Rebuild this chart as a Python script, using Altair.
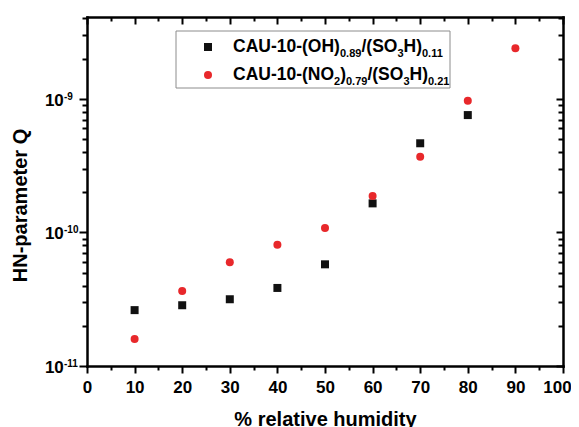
import altair as alt
import pandas as pd

# ---- data ----
humidity_oh = [10, 20, 30, 40, 50, 60, 70, 80]
q_oh = [2.62e-11, 2.85e-11, 3.16e-11, 3.84e-11, 5.77e-11, 1.65e-10, 4.65e-10, 7.56e-10]

humidity_no2 = [10, 20, 30, 40, 50, 60, 70, 80, 90]
q_no2 = [1.59e-11, 3.64e-11, 5.97e-11, 8.09e-11, 1.08e-10, 1.87e-10, 3.69e-10, 9.68e-10, 2.39e-9]

x_major = [0, 10, 20, 30, 40, 50, 60, 70, 80, 90, 100]
x_minor = [5, 15, 25, 35, 45, 55, 65, 75, 85, 95]
y_major = [1e-11, 1e-10, 1e-9]
y_major_base = ["10", "10", "10"]
y_major_exp = ["-11", "-10", "-9"]
y_minor = [2e-11, 3e-11, 4e-11, 5e-11, 6e-11, 7e-11, 8e-11, 9e-11,
           2e-10, 3e-10, 4e-10, 5e-10, 6e-10, 7e-10, 8e-10, 9e-10,
           2e-9, 3e-9, 4e-9]
x_domain = [0, 100]
y_domain = [1e-11, 4.1e-9]

x_title = "% relative humidity"
y_title = "HN-parameter Q"

# legend text pieces: (text, is_subscript)
legend_oh = [("CAU-10-(OH)", False), ("0.89", True), ("/(SO", False), ("3", True), ("H)", False), ("0.11", True)]
legend_no2 = [("CAU-10-(NO", False), ("2", True), (")", False), ("0.79", True), ("/(SO", False),
              ("3", True), ("H)", False), ("0.21", True)]

# ---- layout / style (kept apart from the data) ----
W, H = 476, 349
FONT = "Liberation Sans"
RED = "#e8282b"
BLACK = "#111111"
MAIN_FS, SUB_FS = 17.5, 11
legend_x_oh = [146, 253, 274.5, 310.5, 316.5, 335]
legend_x_no2 = [146, 247, 253.2, 259, 280.4, 316.4, 322.5, 341]
legend_base_y = [35, 63]
sub_drop = 5

df_oh = pd.DataFrame({"rh": humidity_oh, "q": q_oh})
df_no2 = pd.DataFrame({"rh": humidity_no2, "q": q_no2})

xs = alt.Scale(domain=x_domain, nice=False, zero=False)
ys = alt.Scale(type="log", domain=y_domain, nice=False)

common = dict(grid=False, domainColor="black", tickColor="black", domainWidth=2.5,
              tickWidth=2, labelOverlap=False, domainCap="square")


def xaxis(values, size, offset=0, labels=False, domain=True, title=None):
    kw = dict(common)
    kw.update(values=values, tickSize=size, orient="bottom", offset=offset,
              labels=labels, domain=domain)
    if labels:
        kw.update(labelFont=FONT, labelFontWeight="bold", labelFontSize=17,
                  labelColor="black", labelPadding=6, labelFlush=False, format="d",
                  labelOffset={"condition": {"test": f"datum.value === {x_domain[1]}", "value": -6},
                               "value": 0})
    if title:
        kw.update(title=title, titleFont=FONT, titleFontWeight="bold", titleFontSize=20,
                  titleColor="black", titleX=W / 2, titleY=59, titleAlign="center",
                  titleBaseline="alphabetic")
    else:
        kw.update(title=None)
    return alt.Axis(**kw)


def yaxis(values, size, offset=0, domain=True, title=None, label_expr=None,
          ticks=True, label_kw=None):
    kw = dict(common)
    kw.update(values=values, tickSize=size, orient="left", offset=offset,
              domain=domain, ticks=ticks)
    if label_expr:
        kw.update(labels=True, labelExpr=label_expr, labelFont=FONT, labelFontWeight="bold",
                  labelColor="black", labelBaseline="middle")
        kw.update(label_kw or {})
    else:
        kw.update(labels=False)
    if title:
        kw.update(title=title, titleFont=FONT, titleFontWeight="bold", titleFontSize=20,
                  titleColor="black", titleX=-61, titleY=188, titleAngle=270,
                  titleAlign="center", titleBaseline="alphabetic")
    else:
        kw.update(title=None)
    return alt.Axis(**kw)


def lookup_expr(values, texts):
    expr = "''"
    for v, t in zip(values, texts):
        expr = f"abs(datum.value/{v} - 1) < 0.001 ? '{t}' : ({expr})"
    return expr


base_expr = lookup_expr(y_major, y_major_base)
exp_expr = lookup_expr(y_major, y_major_exp)

# data layers
pts_oh = alt.Chart(df_oh).mark_point(shape="square", filled=True, size=64, color=BLACK, opacity=1).encode(
    x=alt.X("rh:Q", scale=xs, axis=xaxis(x_major, 7, labels=True, title=x_title)),
    y=alt.Y("q:Q", scale=ys, axis=yaxis(y_major, 8, title=y_title, label_expr=base_expr,
                                         label_kw=dict(labelFontSize=17, labelPadding=15.7,
                                                       labelOffset=1.5))),
)
pts_no2 = alt.Chart(df_no2).mark_point(shape="circle", filled=True, size=64, color=RED, opacity=1).encode(
    x=alt.X("rh:Q", scale=xs, axis=xaxis(x_minor, 4, domain=False)),
    y=alt.Y("q:Q", scale=ys, axis=yaxis(y_minor, 5, domain=False)),
)
# frame axes (top and right, ticks pointing inward)
frame_major = alt.Chart(df_oh).mark_point(opacity=0).encode(
    x=alt.X("rh:Q", scale=xs, axis=xaxis(x_major, 7, offset=-H)),
    y=alt.Y("q:Q", scale=ys, axis=yaxis(y_major, 7, offset=-W)),
)
frame_minor = alt.Chart(df_oh).mark_point(opacity=0).encode(
    x=alt.X("rh:Q", scale=xs, axis=xaxis(x_minor, 4, offset=-H, domain=False)),
    y=alt.Y("q:Q", scale=ys, axis=yaxis(y_minor, 5, offset=-W, domain=False)),
)
# superscript exponents on the y labels
exps = alt.Chart(df_oh).mark_point(opacity=0).encode(
    x=alt.X("rh:Q", scale=xs, axis=None),
    y=alt.Y("q:Q", scale=ys, axis=yaxis(y_major, 0, domain=False, ticks=False, label_expr=exp_expr,
                                         label_kw=dict(labelFontSize=10, labelPadding=23.5,
                                                       labelAlign="left", labelOffset=-2.5))),
)

one = alt.Data(values=[{}])
legend_layers = [
    alt.Chart(one).mark_rect(fill="white", stroke="#8c8c8c", strokeWidth=1).encode(
        x=alt.value(89), x2=alt.value(363), y=alt.value(14), y2=alt.value(71)),
    alt.Chart(one).mark_point(shape="square", filled=True, size=64, color=BLACK, opacity=1).encode(
        x=alt.value(121), y=alt.value(30)),
    alt.Chart(one).mark_point(shape="circle", filled=True, size=64, color=RED, opacity=1).encode(
        x=alt.value(121), y=alt.value(58)),
]
for pieces, xpos, by in [(legend_oh, legend_x_oh, legend_base_y[0]),
                         (legend_no2, legend_x_no2, legend_base_y[1])]:
    for (txt, sub), px in zip(pieces, xpos):
        legend_layers.append(
            alt.Chart(one).mark_text(text=txt, font=FONT, fontWeight="bold",
                                     fontSize=SUB_FS if sub else MAIN_FS, color="black",
                                     align="left", baseline="alphabetic").encode(
                x=alt.value(px), y=alt.value(by + (sub_drop if sub else 0)))
        )

chart = alt.layer(pts_oh, pts_no2, frame_major, frame_minor, exps, *legend_layers).resolve_axis(
    x="independent", y="independent"
).properties(
    width=W, height=H,
    autosize=alt.AutoSizeParams(type="none"),
    padding={"left": 79, "top": 9, "right": 8, "bottom": 62},
).configure_view(stroke=None)

chart.save("out.html", embed_options={"renderer": "svg", "actions": False})
